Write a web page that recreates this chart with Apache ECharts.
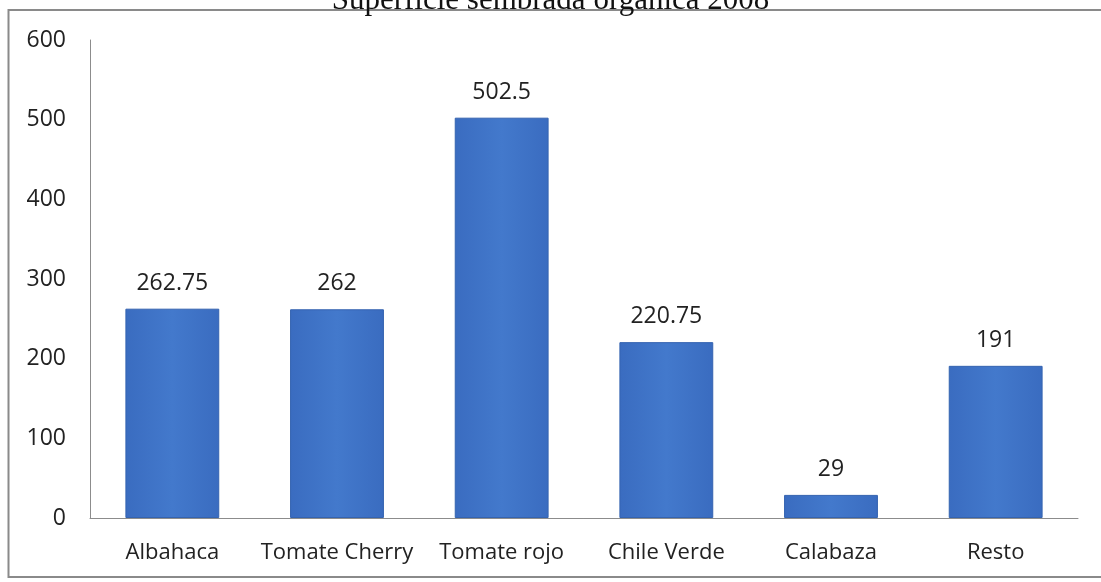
<!DOCTYPE html>
<html>
<head>
<meta charset="utf-8">
<script src="https://cdn.jsdelivr.net/npm/echarts@6/dist/echarts.min.js"></script>
<style>
  html, body { margin: 0; padding: 0; background: #fff; }
  #mainChart { width: 1101px; height: 582px; }
</style>
</head>
<body>
<div id="mainChart"></div>
<script>
  // datos del gráfico
  var categorias = ['Albahaca', 'Tomate Cherry', 'Tomate rojo', 'Chile Verde', 'Calabaza', 'Resto'];
  var superficie = [262.75, 262, 502.5, 220.75, 29, 191];
  var titulo = 'Superficie sembrada orgánica 2008';

  var myChart = echarts.init(document.getElementById('mainChart'));

  var option = {
      animation: false,
      title: {
          text: titulo,
          left: 'center',
          top: -20,
          textStyle: {
              fontFamily: 'Liberation Serif',
              fontWeight: 'normal',
              fontSize: 31,
              color: '#111'
          }
      },
      graphic: [{
          type: 'rect',
          shape: { x: 8.5, y: 10, width: 1100, height: 567 },
          style: { fill: 'none', stroke: '#8a8a8a', lineWidth: 2 },
          silent: true
      }],
      grid: {
          left: 90,
          right: 23,
          top: 40,
          bottom: 64
      },
      xAxis: {
          type: 'category',
          data: categorias,
          axisTick: { show: false },
          axisLine: { lineStyle: { color: '#8c8c8c', width: 1 } },
          axisLabel: {
              interval: 0,
              margin: 24,
              fontFamily: 'Open Sans',
              fontSize: 22,
              color: '#222'
          }
      },
      yAxis: {
          type: 'value',
          min: 0,
          max: 600,
          interval: 100,
          splitLine: { show: false },
          axisTick: { show: false },
          axisLine: { show: true, lineStyle: { color: '#8c8c8c', width: 1 } },
          axisLabel: {
              margin: 24,
              fontFamily: 'Open Sans',
              fontSize: 23,
              color: '#222'
          }
      },
      series: [{
          name: 'Superficie',
          type: 'bar',
          data: superficie,
          barWidth: '57%',
          itemStyle: {
              color: new echarts.graphic.LinearGradient(0, 0, 1, 0, [
                  { offset: 0, color: '#3a6cc0' },
                  { offset: 0.5, color: '#4379cc' },
                  { offset: 1, color: '#3a6cc0' }
              ]),
              borderColor: '#3463b0',
              borderWidth: 1
          },
          label: {
              show: true,
              position: 'top',
              distance: 14,
              fontFamily: 'Open Sans',
              fontSize: 23,
              color: '#222'
          }
      }]
  };

  myChart.setOption(option);
</script>
</body>
</html>
